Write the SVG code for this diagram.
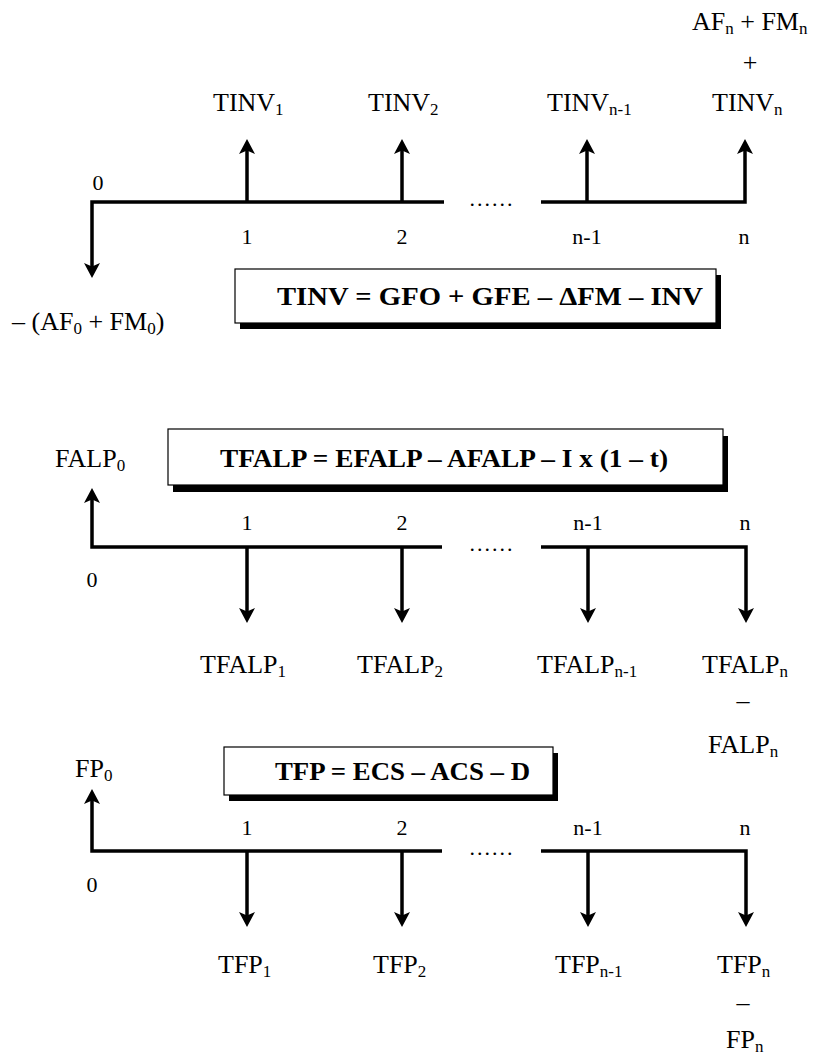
<svg xmlns="http://www.w3.org/2000/svg" width="813" height="1057" viewBox="0 0 813 1057">
<defs>
<marker id="ah" markerWidth="16" markerHeight="16" refX="7" refY="8" orient="auto" markerUnits="userSpaceOnUse" viewBox="0 0 16 16">
<path d="M0,0 L15,8 L0,16 L3.5,8 Z" fill="#000"/>
</marker>
</defs>
<style>
text{font-family:"Liberation Serif","Times New Roman",serif;fill:#000}
.lb{font-size:26px}
.nm{font-size:22px;text-anchor:middle}
.sb{font-size:17px}
.fm{font-size:25px;font-weight:bold}
.ln{fill:none;stroke:#000;stroke-width:3.5;stroke-linejoin:miter;stroke-linecap:butt}
.ar{marker-end:url(#ah)}
.bx{fill:#fff;stroke:#000;stroke-width:1.2}
.sh{fill:#000}
</style>
<rect width="813" height="1057" fill="#fff"/>

<g id="connectors">
<!-- timeline 1 -->
<path class="ln ar" d="M444,202 L92,202 L92,270"/>
<path class="ln ar" d="M541,202 L745,202 L745,147"/>
<path class="ln ar" d="M247,202 L247,147"/>
<path class="ln ar" d="M402,202 L402,147"/>
<path class="ln ar" d="M587,202 L587,147"/>
<!-- timeline 2 -->
<path class="ln ar" d="M442,547 L92,547 L92,496"/>
<path class="ln ar" d="M541,547 L746,547 L746,615"/>
<path class="ln ar" d="M247,547 L247,615"/>
<path class="ln ar" d="M402,547 L402,615"/>
<path class="ln ar" d="M588,547 L588,615"/>
<!-- timeline 3 -->
<path class="ln ar" d="M442,851 L92,851 L92,797"/>
<path class="ln ar" d="M541,851 L746,851 L746,919"/>
<path class="ln ar" d="M247,851 L247,919"/>
<path class="ln ar" d="M402,851 L402,919"/>
<path class="ln ar" d="M588,851 L588,919"/>
</g>

<g id="timeline1-labels">
<text class="nm" x="98" y="190">0</text>
<text class="nm" x="247" y="244">1</text>
<text class="nm" x="402" y="244">2</text>
<text class="nm" x="587" y="244">n-1</text>
<text class="nm" x="744" y="244">n</text>
<text class="nm" x="491" y="206" textLength="43" lengthAdjust="spacing">......</text>
</g>
<g id="tinv1"><text class="lb" x="213" y="111">TINV<tspan class="sb" dy="4">1</tspan></text></g>
<g id="tinv2"><text class="lb" x="368" y="111">TINV<tspan class="sb" dy="4">2</tspan></text></g>
<g id="tinvn1"><text class="lb" x="547" y="111">TINV<tspan class="sb" dy="4">n-1</tspan></text></g>
<g id="tinvn">
<text class="lb" x="692" y="30">AF<tspan class="sb" dy="4">n</tspan><tspan dy="-4"> + FM</tspan><tspan class="sb" dy="4">n</tspan></text>
<text class="lb" x="750" y="71" text-anchor="middle">+</text>
<text class="lb" x="712" y="111">TINV<tspan class="sb" dy="4">n</tspan></text>
</g>
<g id="initial1"><text class="lb" x="12" y="330">– (AF<tspan class="sb" dy="4">0</tspan><tspan dy="-4"> + FM</tspan><tspan class="sb" dy="4">0</tspan><tspan dy="-4">)</tspan></text></g>
<g id="formula1">
<rect class="sh" x="240" y="275" width="481" height="54"/>
<rect class="bx" x="235" y="269" width="481" height="54"/>
<text class="fm" x="277" y="305" textLength="426" lengthAdjust="spacingAndGlyphs">TINV = GFO + GFE – ΔFM – INV</text>
</g>

<g id="timeline2-labels">
<text class="nm" x="92" y="587">0</text>
<text class="nm" x="247" y="530">1</text>
<text class="nm" x="402" y="530">2</text>
<text class="nm" x="588" y="530">n-1</text>
<text class="nm" x="745" y="530">n</text>
<text class="nm" x="491" y="551" textLength="43" lengthAdjust="spacing">......</text>
</g>
<g id="falp0"><text class="lb" x="55" y="467">FALP<tspan class="sb" dy="4">0</tspan></text></g>
<g id="formula2">
<rect class="sh" x="173" y="436" width="555" height="56"/>
<rect class="bx" x="168" y="429" width="555" height="56"/>
<text class="fm" x="220" y="467" textLength="448" lengthAdjust="spacingAndGlyphs">TFALP = EFALP – AFALP – I x (1 – t)</text>
</g>
<g id="tfalp1"><text class="lb" x="200" y="673">TFALP<tspan class="sb" dy="4">1</tspan></text></g>
<g id="tfalp2"><text class="lb" x="357" y="673">TFALP<tspan class="sb" dy="4">2</tspan></text></g>
<g id="tfalpn1"><text class="lb" x="537" y="673">TFALP<tspan class="sb" dy="4">n-1</tspan></text></g>
<g id="tfalpn">
<text class="lb" x="702" y="673">TFALP<tspan class="sb" dy="4">n</tspan></text>
<text class="lb" x="743" y="709" text-anchor="middle">–</text>
<text class="lb" x="708" y="753">FALP<tspan class="sb" dy="4">n</tspan></text>
</g>

<g id="timeline3-labels">
<text class="nm" x="92" y="892">0</text>
<text class="nm" x="247" y="835">1</text>
<text class="nm" x="402" y="835">2</text>
<text class="nm" x="588" y="835">n-1</text>
<text class="nm" x="745" y="835">n</text>
<text class="nm" x="491" y="855" textLength="43" lengthAdjust="spacing">......</text>
</g>
<g id="fp0"><text class="lb" x="75" y="777">FP<tspan class="sb" dy="4">0</tspan></text></g>
<g id="formula3">
<rect class="sh" x="229" y="753" width="329" height="48"/>
<rect class="bx" x="224" y="747" width="329" height="48"/>
<text class="fm" x="275" y="780" textLength="255" lengthAdjust="spacingAndGlyphs">TFP = ECS – ACS – D</text>
</g>
<g id="tfp1"><text class="lb" x="218" y="973">TFP<tspan class="sb" dy="4">1</tspan></text></g>
<g id="tfp2"><text class="lb" x="373" y="973">TFP<tspan class="sb" dy="4">2</tspan></text></g>
<g id="tfpn1"><text class="lb" x="555" y="973">TFP<tspan class="sb" dy="4">n-1</tspan></text></g>
<g id="tfpn">
<text class="lb" x="717" y="973">TFP<tspan class="sb" dy="4">n</tspan></text>
<text class="lb" x="743" y="1011" text-anchor="middle">–</text>
<text class="lb" x="726" y="1048">FP<tspan class="sb" dy="4">n</tspan></text>
</g>
</svg>
